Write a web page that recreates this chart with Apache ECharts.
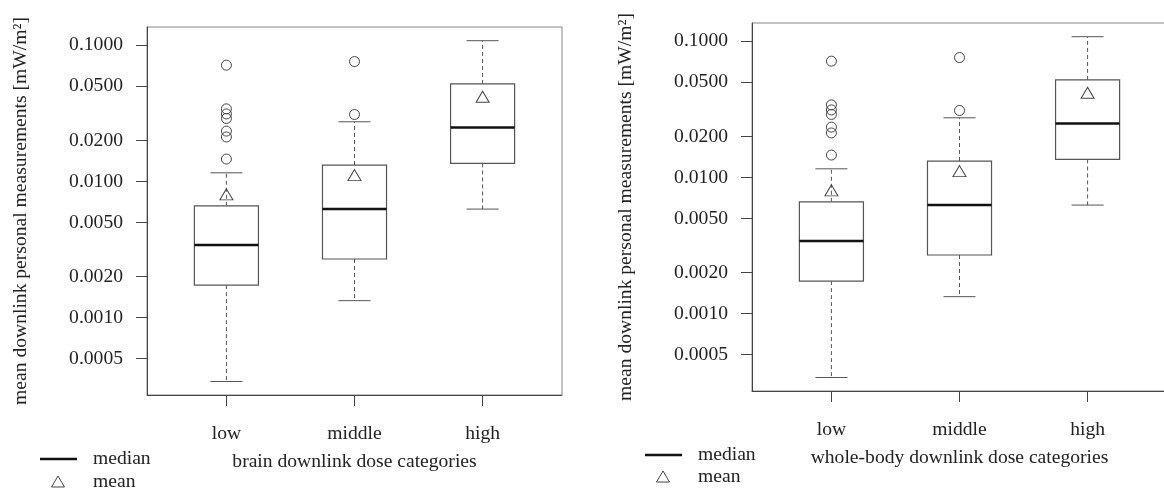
<!DOCTYPE html>
<html>
<head>
<meta charset="utf-8">
<script src="https://cdn.jsdelivr.net/npm/echarts@6/dist/echarts.min.js"></script>
<style>
  html, body { margin: 0; padding: 0; background: #fff; }
  #main { width: 1164px; height: 490px; }
</style>
</head>
<body>
<div id="main"></div>
<script>
// categories + tick labels
const categories = ['low', 'middle', 'high'];
const yTickValues = [0.1, 0.05, 0.02, 0.01, 0.005, 0.002, 0.001, 0.0005];
const yTickLabels = ['0.1000', '0.0500', '0.0200', '0.0100', '0.0050', '0.0020', '0.0010', '0.0005'];

// brain downlink dose categories (mW/m²)
const brainWhiskerLow  = [0.000339, 0.00133, 0.00626];
const brainQ1          = [0.00173, 0.00269, 0.01355];
const brainMedian      = [0.00341, 0.00626, 0.0249];
const brainQ3          = [0.00662, 0.01318, 0.0520];
const brainWhiskerHigh = [0.01156, 0.0274, 0.108];
const brainMean        = [0.00803, 0.01112, 0.0418];
const brainOutliers    = [[0.0714, 0.0341, 0.0313, 0.0290, 0.0234, 0.0212, 0.01459], [0.0759, 0.0310], []];

// whole-body downlink dose categories (mW/m²)
const bodyWhiskerLow  = [0.000339, 0.00133, 0.00626];
const bodyQ1          = [0.00173, 0.00269, 0.01355];
const bodyMedian      = [0.00341, 0.00626, 0.0249];
const bodyQ3          = [0.00662, 0.01318, 0.0520];
const bodyWhiskerHigh = [0.01156, 0.0274, 0.108];
const bodyMean        = [0.00803, 0.01112, 0.0418];
const bodyOutliers    = [[0.0714, 0.0341, 0.0313, 0.0290, 0.0234, 0.0212, 0.01459], [0.0759, 0.0310], []];

const FONT = 'Liberation Serif';
const FS = 19.6;
const lg = Math.log10;
const yMin = -3.569, yMax = -0.866;
const yTickLog = yTickValues.map(lg);

function yLabel(v) {
    let best = 0;
    yTickLog.forEach((t, i) => { if (Math.abs(t - v) < Math.abs(yTickLog[best] - v)) best = i; });
    return yTickLabels[best];
}

let boxData = (lo, q1, med, q3, hi) =>
    categories.map((c, i) => [i + 1, lg(lo[i]), lg(q1[i]), lg(med[i]), lg(q3[i]), lg(hi[i])]);

let outlierData = (out) => {
    let res = [];
    out.forEach((arr, i) => arr.forEach(v => res.push([i + 1, lg(v)])));
    return res;
};

let meanData = (m) => m.map((v, i) => [i + 1, lg(v)]);

function renderBox(params, api) {
    const x = api.value(0);
    const pLo = api.coord([x, api.value(1)]);
    const pQ1 = api.coord([x, api.value(2)]);
    const pMed = api.coord([x, api.value(3)]);
    const pQ3 = api.coord([x, api.value(4)]);
    const pHi = api.coord([x, api.value(5)]);
    const half = api.size([0.25, 0])[0];
    const cap = api.size([0.125, 0])[0];
    const cx = pMed[0];
    const grey = '#555';
    const dashed = { stroke: grey, lineWidth: 1, lineDash: [4, 3] };
    const solid = { stroke: grey, lineWidth: 1 };
    return {
        type: 'group',
        children: [
            { type: 'line', shape: { x1: cx, y1: pQ1[1], x2: cx, y2: pLo[1] }, style: dashed },
            { type: 'line', shape: { x1: cx, y1: pQ3[1], x2: cx, y2: pHi[1] }, style: dashed },
            { type: 'line', shape: { x1: cx - cap, y1: pLo[1], x2: cx + cap, y2: pLo[1] }, style: solid },
            { type: 'line', shape: { x1: cx - cap, y1: pHi[1], x2: cx + cap, y2: pHi[1] }, style: solid },
            { type: 'rect', shape: { x: cx - half, y: pQ3[1], width: 2 * half, height: pQ1[1] - pQ3[1] },
              style: { fill: '#fff', stroke: grey, lineWidth: 1.2 } },
            { type: 'line', shape: { x1: cx - half, y1: pMed[1], x2: cx + half, y2: pMed[1] },
              style: { stroke: '#111', lineWidth: 2.5 } }
        ]
    };
}

function makeX(gridIndex, name) {
    return {
        type: 'value', gridIndex: gridIndex, min: 0.38, max: 3.62,
        name: name, nameLocation: 'middle', nameGap: 57,
        nameTextStyle: { fontFamily: FONT, fontSize: FS, color: '#222' },
        axisLine: { show: true, onZero: false, lineStyle: { color: '#444', width: 1 } },
        axisTick: { show: true, length: 11, customValues: [1, 2, 3], lineStyle: { color: '#444' } },
        axisLabel: {
            customValues: [1, 2, 3], margin: 29,
            formatter: v => categories[Math.round(v) - 1],
            fontFamily: FONT, fontSize: FS, color: '#222'
        },
        splitLine: { show: false }
    };
}

function makeY(gridIndex) {
    return {
        type: 'value', gridIndex: gridIndex, min: yMin, max: yMax,
        name: 'mean downlink personal measurements [mW/m²]',
        nameLocation: 'middle', nameGap: 116, nameRotate: 90,
        nameTextStyle: { fontFamily: FONT, fontSize: FS, color: '#222' },
        axisLine: { show: true, onZero: false, lineStyle: { color: '#444', width: 1 } },
        axisTick: { show: true, length: 11, customValues: yTickLog, lineStyle: { color: '#444' } },
        axisLabel: {
            customValues: yTickLog, margin: 24, formatter: yLabel,
            fontFamily: FONT, fontSize: FS, color: '#222'
        },
        splitLine: { show: false }
    };
}

function makeSeries(idx, lo, q1, med, q3, hi, mean, out) {
    return [
        {
            type: 'custom', xAxisIndex: idx, yAxisIndex: idx,
            data: boxData(lo, q1, med, q3, hi),
            encode: { x: 0, y: [1, 2, 3, 4, 5] },
            renderItem: renderBox, silent: true
        },
        {
            type: 'scatter', xAxisIndex: idx, yAxisIndex: idx,
            data: outlierData(out), symbol: 'circle', symbolSize: 10,
            itemStyle: { color: 'rgba(255,255,255,0)', borderColor: '#444', borderWidth: 1, opacity: 1 },
            silent: true
        },
        {
            type: 'scatter', xAxisIndex: idx, yAxisIndex: idx,
            data: meanData(mean), symbol: 'triangle', symbolSize: [13, 11],
            itemStyle: { color: 'rgba(255,255,255,0)', borderColor: '#444', borderWidth: 1, opacity: 1 },
            silent: true
        }
    ];
}

function legend(x0, yMed, yMean) {
    const txt = { fontFamily: FONT, fontSize: FS, fill: '#222', verticalAlign: 'middle' };
    const tx = x0 + 18, ty = yMean;
    return [
        { type: 'line', shape: { x1: x0, y1: yMed, x2: x0 + 37, y2: yMed }, style: { stroke: '#111', lineWidth: 2.5 } },
        { type: 'text', x: x0 + 53, y: yMed, style: Object.assign({ text: 'median' }, txt) },
        { type: 'polygon', shape: { points: [[tx, ty - 6], [tx + 6.5, ty + 5], [tx - 6.5, ty + 5]] },
          style: { fill: 'none', stroke: '#444', lineWidth: 1 } },
        { type: 'text', x: x0 + 53, y: yMean, style: Object.assign({ text: 'mean' }, txt) }
    ];
}

let chart = echarts.init(document.getElementById('main'));
let option = {
    animation: false,
    backgroundColor: '#fff',
    grid: [
        { left: 147, top: 27, width: 415, height: 368, show: true, borderColor: '#888', borderWidth: 1, outerBoundsMode: 'none' },
        { left: 752, top: 23, width: 415, height: 368, show: true, borderColor: '#888', borderWidth: 1, outerBoundsMode: 'none' }
    ],
    xAxis: [makeX(0, 'brain downlink dose categories'), makeX(1, 'whole-body downlink dose categories')],
    yAxis: [makeY(0), makeY(1)],
    series: [].concat(
        makeSeries(0, brainWhiskerLow, brainQ1, brainMedian, brainQ3, brainWhiskerHigh, brainMean, brainOutliers),
        makeSeries(1, bodyWhiskerLow, bodyQ1, bodyMedian, bodyQ3, bodyWhiskerHigh, bodyMean, bodyOutliers)
    ),
    graphic: [].concat(legend(40, 459, 482), legend(645, 455, 477))
};
chart.setOption(option);
</script>
</body>
</html>
